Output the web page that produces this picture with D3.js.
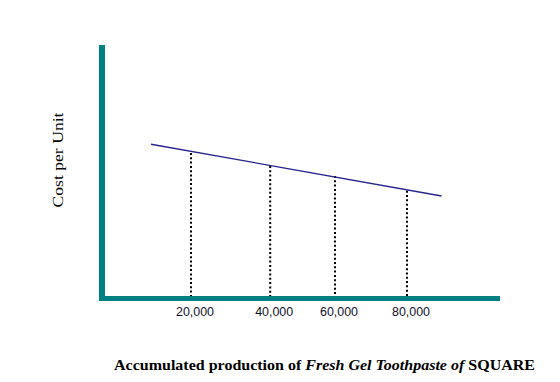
<!DOCTYPE html>
<html>
<head>
<meta charset="utf-8">
<script src="https://cdn.jsdelivr.net/npm/d3@7"></script>
<style>
  html, body { margin: 0; padding: 0; background: #fff; }
  svg { display: block; }
</style>
</head>
<body>
<svg id="chart" width="560" height="382"></svg>
<script>
// ---- data (cost in arbitrary units) ----
const tickLabels = ["20,000", "40,000", "60,000", "80,000"];
const dropProduction = [20000, 42000, 60000, 80000];
const dropCost = [58, 52.8, 48.8, 42.9];
const curveProduction = [8900, 89600];
const curveCost = [61.5, 40.8];
const yTitle = "Cost per Unit";

const W = 560, H = 382;
const svg = d3.select("#chart");

// plot frame
const frame = { left: 99, right: 500, top: 45, bottom: 301, thick: 6, thickX: 5 };

const x = d3.scaleLinear().domain([0, 100000]).range([119, 479]);
const y = d3.scaleLinear().domain([0, 100]).range([298, 48]);

const teal = "#008080";

// drop lines
const drops = dropProduction.map((p, i) => ({ p, c: dropCost[i], label: tickLabels[i] }));
svg.append("g").selectAll("line").data(drops).join("line")
  .attr("x1", d => x(d.p)).attr("x2", d => x(d.p))
  .attr("y1", d => y(d.c)).attr("y2", frame.bottom - frame.thickX)
  .attr("stroke", "#000").attr("stroke-width", 2)
  .attr("stroke-dasharray", "2,2.3");

// cost curve
const curve = curveProduction.map((p, i) => ({ p, c: curveCost[i] }));
svg.append("path").datum(curve)
  .attr("d", d3.line().x(d => x(d.p)).y(d => y(d.c)))
  .attr("fill", "none").attr("stroke", "#25258f").attr("stroke-width", 1.3);

// axes (thick teal bars)
svg.append("rect").attr("x", frame.left).attr("y", frame.top)
  .attr("width", frame.thick).attr("height", frame.bottom - frame.top).attr("fill", teal);
svg.append("rect").attr("x", frame.left).attr("y", frame.bottom - frame.thickX)
  .attr("width", frame.right - frame.left).attr("height", frame.thickX).attr("fill", teal);

// tick labels
svg.append("g").selectAll("text").data(drops).join("text")
  .attr("x", d => x(d.p) + 4).attr("y", 316)
  .attr("text-anchor", "middle")
  .attr("font-family", "'Liberation Sans', Arial, sans-serif")
  .attr("font-size", 13.5)
  .attr("textLength", 38).attr("lengthAdjust", "spacingAndGlyphs")
  .attr("fill", "#10102a")
  .text(d => d.label);

// y title
svg.append("text")
  .attr("transform", "translate(63,160) rotate(-90)")
  .attr("text-anchor", "middle")
  .attr("font-family", "'Liberation Serif', 'Times New Roman', serif")
  .attr("font-size", 14)
  .attr("textLength", 95).attr("lengthAdjust", "spacingAndGlyphs")
  .attr("fill", "#000")
  .text(yTitle);

// x title
const t = svg.append("text")
  .attr("x", 114).attr("y", 370)
  .attr("font-family", "'Liberation Serif', 'Times New Roman', serif")
  .attr("font-size", 14.5)
  .attr("font-weight", "bold")
  .attr("textLength", 421).attr("lengthAdjust", "spacingAndGlyphs")
  .attr("fill", "#000");
t.append("tspan").text("Accumulated production of ");
t.append("tspan").attr("font-style", "italic").text("Fresh Gel Toothpaste of");
t.append("tspan").text(" SQUARE");
</script>
</body>
</html>
